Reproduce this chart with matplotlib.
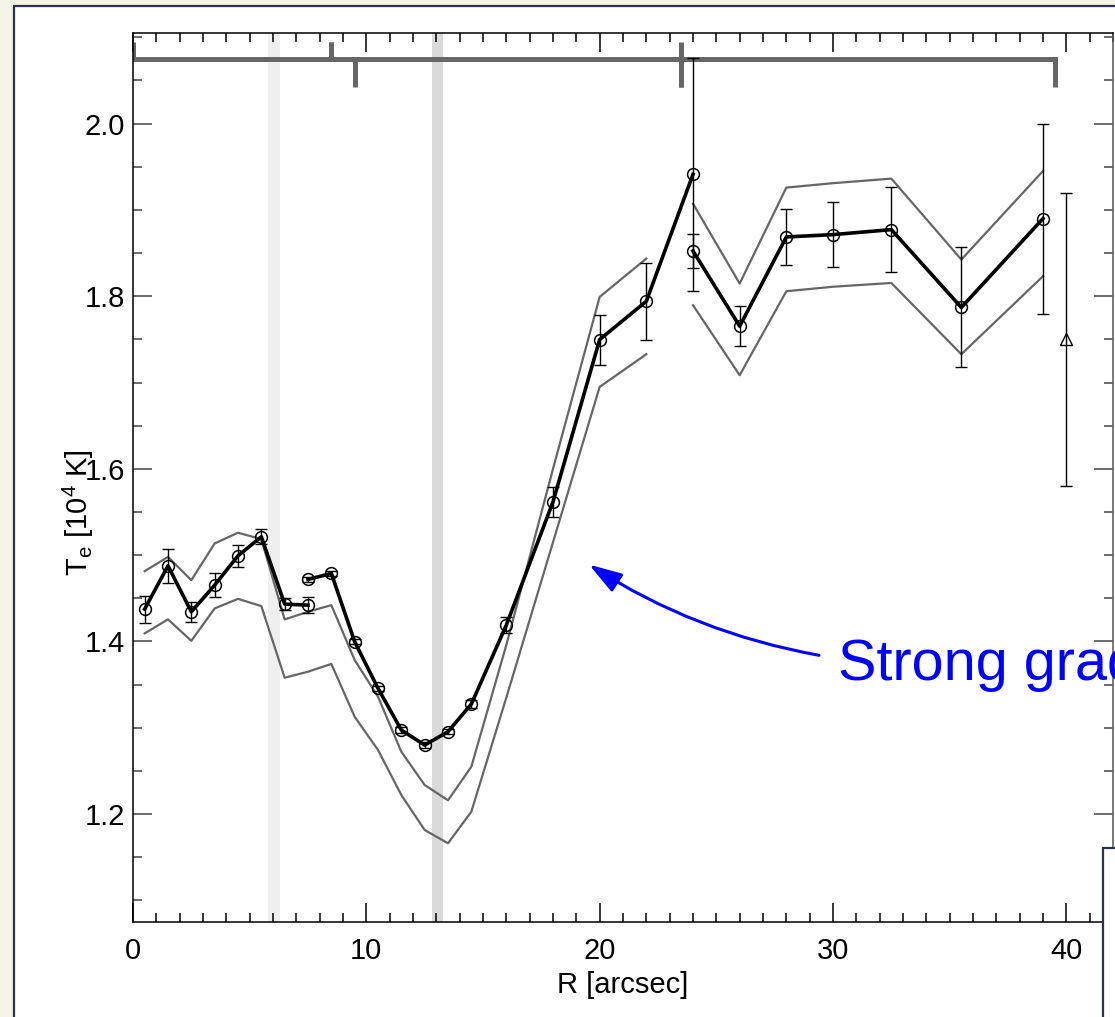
import matplotlib
matplotlib.use("Agg")
import matplotlib.pyplot as plt
import matplotlib.ticker as mticker
from matplotlib.patches import Rectangle
from matplotlib import rcParams

config = {"font.family": ['Liberation Sans', 'DejaVu Sans'], "font.size": 21, "mathtext.default": 'regular'}
rcParams.update(config)

# inner slit, first pass (R in arcsec, Te in 1e4 K)
r_a = [0.5, 1.5, 2.5, 3.5, 4.5, 5.5, 6.5, 7.5]
te_a = [1.4375, 1.4877, 1.4344, 1.4653, 1.4993, 1.5213, 1.4433, 1.4421]
err_a = [0.0156, 0.020, 0.0116, 0.014, 0.013, 0.0087, 0.007, 0.0093]

# second pass across the gradient
r_b = [7.5, 8.5, 9.5, 10.5, 11.5, 12.5, 13.5, 14.5, 16, 18, 20, 22, 24]
te_b = [1.4719, 1.4789, 1.3997, 1.3457, 1.2974, 1.2800, 1.2955, 1.3275,
        1.4190, 1.5618, 1.7498, 1.7942, 1.9413]
err_b = [0.003, 0.003, 0.003, 0.003, 0.003, 0.003, 0.003, 0.005,
         0.009, 0.0174, 0.029, 0.0444, 0.135]

# outer region
r_c = [24, 26, 28, 30, 32.5, 35.5, 39]
te_c = [1.8525, 1.7653, 1.8687, 1.8714, 1.8772, 1.7870, 1.8900]
err_c = [0.0195, 0.023, 0.032, 0.0376, 0.0496, 0.0695, 0.110]

# model envelopes
env_r1 = [0.5, 1.5, 2.5, 3.5, 4.5, 5.5, 6.5, 7.5, 8.5, 9.5, 10.5, 11.5,
          12.5, 13.5, 14.5, 16, 18, 20, 22]
env_hi1 = [1.4815, 1.4980, 1.4710, 1.5136, 1.5260, 1.5186, 1.4256, 1.4344,
           1.4421, 1.3785, 1.3360, 1.2723, 1.2337, 1.2160, 1.2549, 1.3960,
           1.6000, 1.7992, 1.8437]
env_lo1 = [1.4094, 1.4256, 1.4008, 1.4383, 1.4494, 1.4410, 1.3580, 1.3650,
           1.3740, 1.3128, 1.2743, 1.2221, 1.1816, 1.1662, 1.2028, 1.3350,
           1.5150, 1.6950, 1.7328]
env_r2 = [24, 26, 28, 30, 32.5, 35.5, 39]
env_hi2 = [1.9073, 1.8147, 1.9259, 1.9310, 1.9363, 1.8425, 1.9451]
env_lo2 = [1.7896, 1.7085, 1.8058, 1.8110, 1.8154, 1.7328, 1.8232]

# integrated value
r_int = [40]
te_int = [1.75]
err_int = [0.17]

# slit coverage brackets
bracket_up = [(0, 8.5), (8.5, 23.5)]
bracket_down = [(9.5, 23.5), (23.5, 39.5)]
bands = [(5.8, 6.3, '#efefef'), (12.8, 13.3, '#dadada')]

fig = plt.figure(figsize=(11.15, 10.17), dpi=100, facecolor='#f5f5e7')

# white panels
fig.patches.append(Rectangle((13.5 / 1115, -0.05), 1.2, 1.05 - 5.5 / 1017,
                             transform=fig.transFigure, facecolor='white',
                             edgecolor='#2e3050', lw=1.6, zorder=-1))
fig.patches.append(Rectangle((1103 / 1115, -0.05), 0.2, 0.05 + 169 / 1017,
                             transform=fig.transFigure, facecolor='white',
                             edgecolor='#2e3050', lw=1.6, zorder=10))

ax = fig.add_axes([133 / 1115, 95 / 1017, 980 / 1115, 889 / 1017])

for x0, x1, c in bands:
    ax.axvspan(x0, x1, color=c, lw=0, zorder=0)

# brackets along the top
yb, yup, ydn = 2.0745, 2.094, 2.043
for x0, x1 in bracket_up:
    ax.plot([x0, x0, x1, x1], [yup, yb, yb, yup], color='#666666', lw=3.6,
            solid_joinstyle='miter', solid_capstyle='butt', zorder=2)
for x0, x1 in bracket_down:
    ax.plot([x0, x0, x1, x1], [ydn, yb, yb, ydn], color='#666666', lw=3.6,
            solid_joinstyle='miter', solid_capstyle='butt', zorder=2)

# envelopes
for rr, hi, lo in [(env_r1, env_hi1, env_lo1), (env_r2, env_hi2, env_lo2)]:
    ax.plot(rr, hi, color='#666666', lw=1.6, zorder=2)
    ax.plot(rr, lo, color='#666666', lw=1.6, zorder=2)

# measurements
for rr, te, ee in [(r_a, te_a, err_a), (r_b, te_b, err_b), (r_c, te_c, err_c)]:
    ax.errorbar(rr, te, yerr=ee, fmt='none', ecolor='black', elinewidth=1.0,
                capsize=4, capthick=1.0, zorder=3)
    ax.plot(rr, te, color='black', lw=2.6, marker='o', ms=8.5, mfc='none',
            mec='black', mew=1.1, zorder=4)

ax.errorbar(r_int, te_int, yerr=err_int, fmt='^', ms=9, mfc='none', mec='black',
            mew=1.0, ecolor='black', elinewidth=1.0, capsize=4, capthick=1.0, zorder=3)

ax.annotate('', xy=(19.55, 1.489), xytext=(29.4, 1.384),
            arrowprops=dict(arrowstyle='-|>,head_length=1.0,head_width=0.32',
                            color='blue', lw=2.2, mutation_scale=20,
                            shrinkA=0, shrinkB=0,
                            connectionstyle='arc3,rad=-0.1'))
ax.text(30.2, 1.3553, 'Strong gradient', color='blue', fontsize=41.5,
        ha='left', va='baseline', clip_on=False, zorder=5)

ax.set_xlim(0, 42)
ax.set_ylim(1.075, 2.105)
ax.xaxis.set_major_locator(mticker.MultipleLocator(10))
ax.xaxis.set_minor_locator(mticker.MultipleLocator(1))
ax.yaxis.set_major_locator(mticker.MultipleLocator(0.2))
ax.yaxis.set_minor_locator(mticker.MultipleLocator(0.05))
ax.yaxis.set_major_formatter(mticker.FormatStrFormatter('%.1f'))
ax.tick_params(which='both', direction='in', top=True, right=True, width=1.1)
ax.tick_params(which='major', length=13.5)
ax.tick_params(which='minor', length=6.8)
ax.tick_params(axis='x', pad=11)
ax.tick_params(axis='y', pad=5.5)
for s in ax.spines.values():
    s.set_linewidth(1.1)
ax.spines['right'].set_color('#555555')
ax.tick_params(axis='y', which='both', color='#444444')

ax.set_xlabel('R [arcsec]', va='center')
ax.xaxis.set_label_coords(0.5, -0.071)
ax.set_ylabel(r'T$_{e}$ [10$^4$ K]', va='center')
ax.yaxis.set_label_coords(-0.056, 0.461)

fig.savefig('out.png', dpi=100, facecolor=fig.get_facecolor())
